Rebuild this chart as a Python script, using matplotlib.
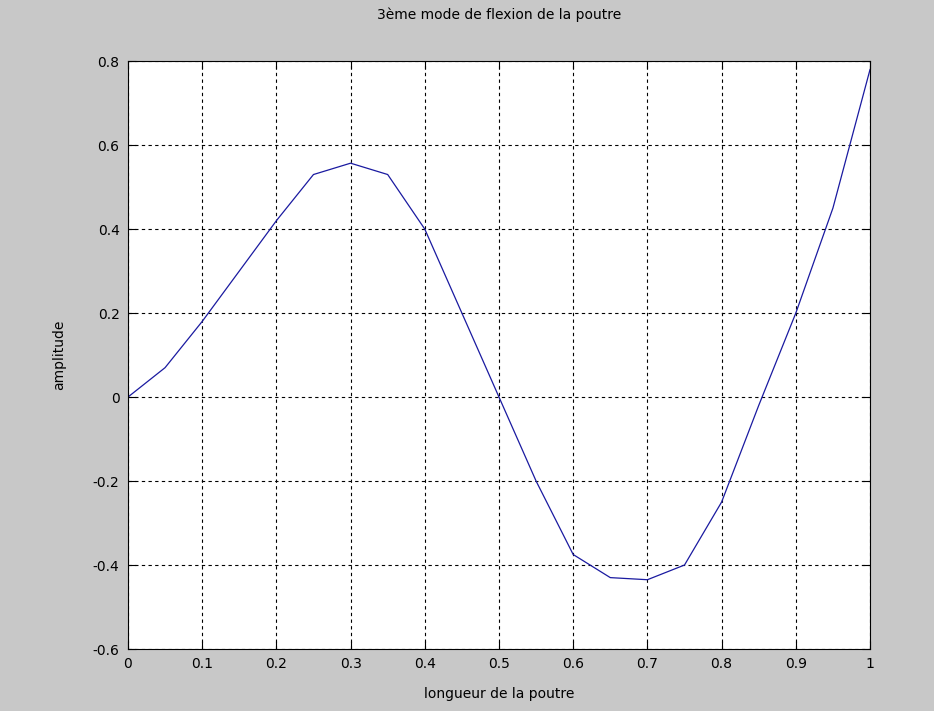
import matplotlib
matplotlib.use('Agg')
import matplotlib.pyplot as plt

# valeurs (3eme mode de flexion)
x_pos = [0.0, 0.05, 0.1, 0.15, 0.2, 0.25, 0.3, 0.35, 0.4, 0.45, 0.5,
         0.55, 0.6, 0.65, 0.7, 0.75, 0.8, 0.85, 0.9, 0.95, 1.0]
amplitude = [0.0, 0.07, 0.18, 0.30, 0.42, 0.53, 0.557, 0.53, 0.40, 0.20, 0.0,
             -0.20, -0.375, -0.43, -0.435, -0.40, -0.25, -0.02, 0.20, 0.45, 0.78]

x_ticks = [0, 0.1, 0.2, 0.3, 0.4, 0.5, 0.6, 0.7, 0.8, 0.9, 1]
x_labels = ['0', '0.1', '0.2', '0.3', '0.4', '0.5', '0.6', '0.7', '0.8', '0.9', '1']
y_ticks = [-0.6, -0.4, -0.2, 0, 0.2, 0.4, 0.6, 0.8]
y_labels = ['-0.6', '-0.4', '-0.2', '0', '0.2', '0.4', '0.6', '0.8']

plt.rcParams['font.family'] = ['DejaVu Sans']
plt.rcParams['font.size'] = 10

fig = plt.figure(figsize=(9.34, 7.11), dpi=100, facecolor='#c8c8c8')
ax = fig.add_axes([0.137, 0.0872, 0.7945, 0.8268])
ax.set_facecolor('white')

ax.plot(x_pos, amplitude, color='#1a1aa0', linewidth=0.9)

ax.set_xlim(0, 1)
ax.set_ylim(-0.6, 0.8)
ax.set_xticks(x_ticks)
ax.set_xticklabels(x_labels)
ax.set_yticks(y_ticks)
ax.set_yticklabels(y_labels)
ax.tick_params(direction='in', length=6, width=0.8, top=True, right=True,
               colors='black', labelsize=10, pad=6)
ax.grid(True, color='black', linestyle=(0, (3, 3)), linewidth=0.8)
for s in ax.spines.values():
    s.set_linewidth(0.8)
    s.set_color('black')

ax.set_title('3ème mode de flexion de la poutre', fontsize=10, pad=30)
ax.set_xlabel('longueur de la poutre', fontsize=10, labelpad=11)
ax.set_ylabel('amplitude', fontsize=10, labelpad=19)

plt.savefig('out.png', dpi=100, facecolor=fig.get_facecolor())
